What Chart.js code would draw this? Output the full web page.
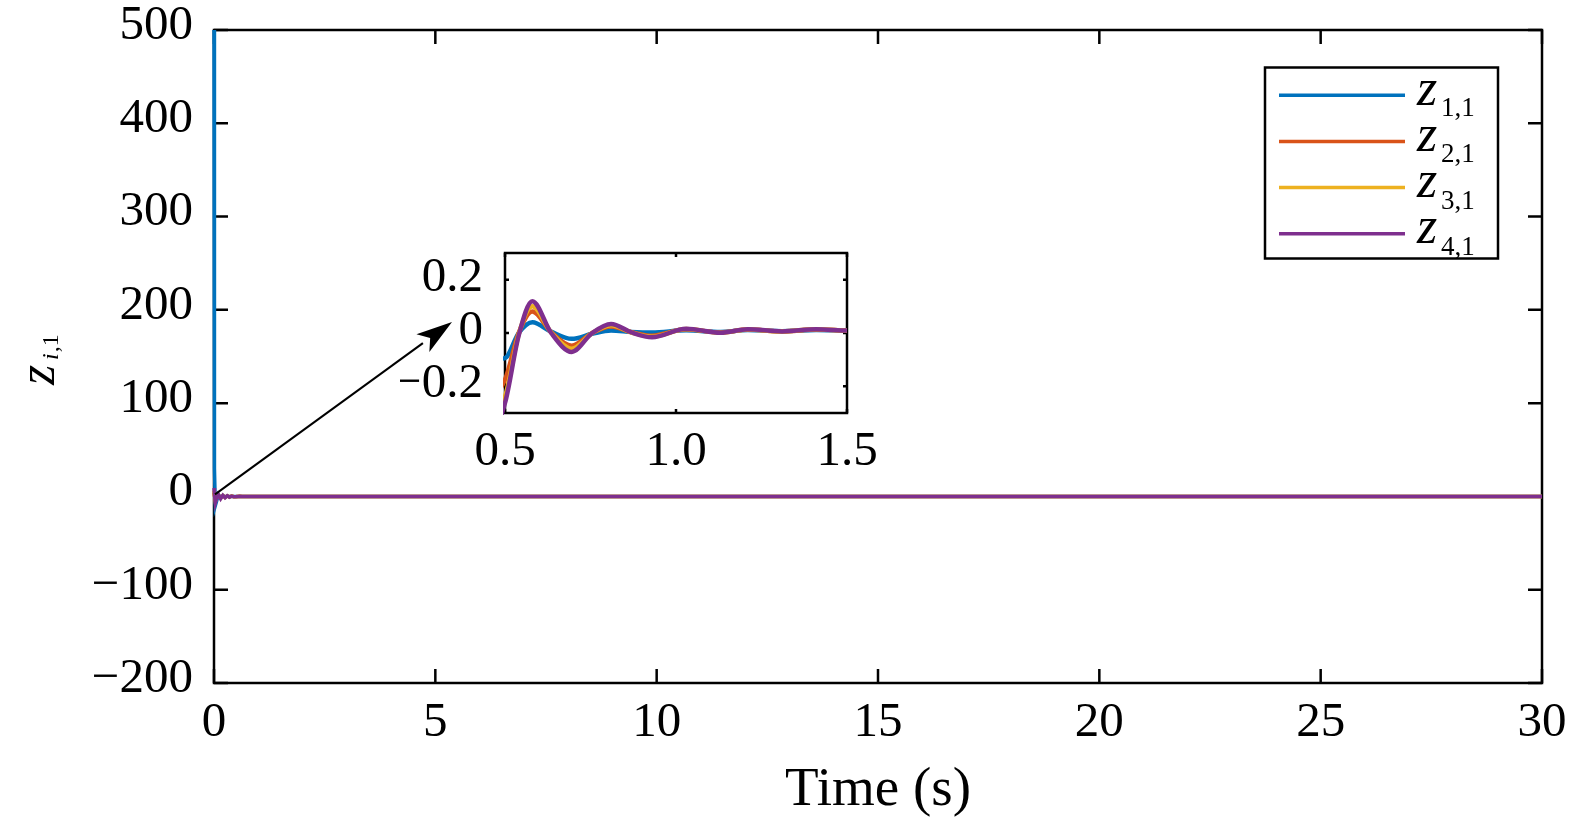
<!DOCTYPE html>
<html>
<head>
<meta charset="utf-8">
<script src="https://cdn.jsdelivr.net/npm/chart.js@4.4.0/dist/chart.umd.min.js"></script>
<style>
  html, body { margin: 0; padding: 0; background: #fff; }
  #wrap { position: relative; width: 1575px; height: 819px; overflow: hidden; }
  #mainChart { position: absolute; left: 0; top: 0; }
  #insetChart { position: absolute; left: 400px; top: 240px; }
</style>
</head>
<body>
<div id="wrap">
  <canvas id="mainChart" width="1575" height="819"></canvas>
  <canvas id="insetChart" width="500" height="240"></canvas>
</div>
<script>
// time samples (s)
const time = [0, 0.01, 0.03, 0.06, 0.1, 0.15, 0.2, 0.25, 0.3, 0.35, 0.4, 0.45,
  0.5, 0.54, 0.58, 0.635, 0.695, 0.755, 0.81, 0.87, 0.93, 1.03, 1.13, 1.21, 1.31, 1.41, 1.5,
  2, 5, 10, 15, 20, 25, 30];

const z11 = [500, 30, -10, -5, 2, -1.5, 1, -0.6, 0.4, -0.3, 0.2, -0.1,
  -0.094, 0.0, 0.04, 0.005, -0.022, -0.003, 0.009, 0.004, 0.002, 0.01, 0.004, 0.011, 0.007, 0.011, 0.009,
  0.005, 0, 0, 0, 0, 0, 0];
const z21 = [4, 1, -4, -1, 1.2, -1.5, 0.8, -0.9, 0.5, -0.5, 0.3, -0.25,
  -0.175, 0.0, 0.081, 0.003, -0.0475, 0.0, 0.024, 0.003, -0.01, 0.014, 0.002, 0.013, 0.006, 0.013, 0.009,
  0.004, 0, 0, 0, 0, 0, 0];
const z31 = [6, 1.5, -5.5, -1.5, 1.6, -2, 1, -1.2, 0.6, -0.6, 0.35, -0.3,
  -0.2375, -0.005, 0.10, 0.002, -0.059, 0.0, 0.029, 0.002, -0.014, 0.015, 0.001, 0.013, 0.006, 0.014, 0.009,
  0.004, 0, 0, 0, 0, 0, 0];
const z41 = [9, 2, -7, -2, 2, -2.5, 1.2, -1.5, 0.8, -0.8, 0.4, -0.4,
  -0.2625, -0.01, 0.119, 0.0, -0.071, 0.0, 0.034, 0.002, -0.016, 0.016, 0.001, 0.014, 0.006, 0.014, 0.009,
  0.004, 0, 0, 0, 0, 0, 0];

const seriesLabels = ['z_{1,1}', 'z_{2,1}', 'z_{3,1}', 'z_{4,1}'];
const seriesColors = ['#0072BD', '#D95319', '#EDB120', '#7E2F8E'];

const mainXTicks = [0, 5, 10, 15, 20, 25, 30];
const mainYTicks = [-200, -100, 0, 100, 200, 300, 400, 500];
const insetXTicks = [0.5, 1.0, 1.5];
const insetYTicks = [-0.2, 0, 0.2];

const serif = 'Liberation Serif';
const minus = s => String(s).replace('-', '\u2212');

function makeDatasets(width, insetMode) {
  return [z11, z21, z31, z41].map((ys, i) => ({
    label: seriesLabels[i],
    data: time.map((t, k) => ({ x: t, y: ys[k] })),
    borderColor: seriesColors[i],
    borderWidth: width,
    pointRadius: 0,
    tension: 0,
    cubicInterpolationMode: insetMode ? 'monotone' : 'default',
    clip: insetMode ? 2 : 4,
    order: 3 - i
  }));
}

function frameTicks(len, lw) {
  return {
    id: 'frameTicks',
    beforeDraw(chart) {
      const { ctx, chartArea: a } = chart;
      ctx.save();
      ctx.fillStyle = '#fff';
      ctx.fillRect(a.left, a.top, a.right - a.left, a.bottom - a.top);
      ctx.restore();
    },
    beforeDatasetsDraw(chart) {
      const { ctx, chartArea: a, scales: { x, y } } = chart;
      ctx.save();
      ctx.strokeStyle = '#000';
      ctx.lineWidth = lw;
      ctx.strokeRect(a.left, a.top, a.right - a.left, a.bottom - a.top);
      ctx.beginPath();
      x.ticks.forEach(t => {
        const px = x.getPixelForValue(t.value);
        ctx.moveTo(px, a.bottom); ctx.lineTo(px, a.bottom - len);
        ctx.moveTo(px, a.top); ctx.lineTo(px, a.top + len);
      });
      y.ticks.forEach(t => {
        const py = y.getPixelForValue(t.value);
        ctx.moveTo(a.left, py); ctx.lineTo(a.left + len, py);
        ctx.moveTo(a.right, py); ctx.lineTo(a.right - len, py);
      });
      ctx.stroke();
      ctx.restore();
    }
  };
}

// draws "z" in italics followed by a subscript
function drawSubLabel(ctx, label, x, y, size, subSize, subDx, subDy) {
  const m = label.match(/^(\w)_\{(.*)\}$/);
  ctx.font = 'italic ' + size + 'px "' + serif + '"';
  ctx.fillText(m[1], x, y);
  ctx.font = subSize + 'px "' + serif + '"';
  ctx.fillText(m[2], x + subDx, y + subDy);
}

const annotations = {
  id: 'annotations',
  afterDraw(chart) {
    const { ctx, chartArea: a, scales: { x, y } } = chart;
    ctx.save();
    ctx.fillStyle = '#000';
    ctx.textBaseline = 'alphabetic';

    // x axis title
    ctx.font = '55px "' + serif + '"';
    ctx.textAlign = 'center';
    ctx.fillText('Time (s)', (a.left + a.right) / 2, 805);

    // y axis title, rotated
    ctx.save();
    ctx.translate(54, 385);
    ctx.rotate(-Math.PI / 2);
    ctx.textAlign = 'left';
    ctx.font = 'italic 52px "' + serif + '"';
    ctx.fillText('z', 0, 0);
    ctx.font = 'italic 24px "' + serif + '"';
    ctx.fillText('i', 25, 4);
    const iw = ctx.measureText('i').width;
    ctx.font = '24px "' + serif + '"';
    ctx.fillText(',1', 25 + iw + 1, 4);
    ctx.restore();

    // legend
    const lx = a.right - 277, ly = a.top + 37.5, lw = 233, lh = 191;
    ctx.fillStyle = '#fff';
    ctx.fillRect(lx, ly, lw, lh);
    ctx.strokeStyle = '#000';
    ctx.lineWidth = 2.5;
    ctx.strokeRect(lx, ly, lw, lh);
    chart.data.datasets.forEach((ds, i) => {
      const yy = ly + 27.7 + i * 46.2;
      ctx.strokeStyle = ds.borderColor;
      ctx.lineWidth = 3.5;
      ctx.beginPath();
      ctx.moveTo(lx + 14, yy);
      ctx.lineTo(lx + 140, yy);
      ctx.stroke();
      ctx.fillStyle = '#000';
      ctx.textAlign = 'left';
      drawSubLabel(ctx, ds.label, lx + 152, yy + 9.5, 52, 27, 24, 11.5);
    });

    // arrow from the origin to the inset
    const x0 = x.getPixelForValue(0) + 1, y0 = y.getPixelForValue(0) - 2;
    const tx = 452, ty = 322;
    const ang = Math.atan2(ty - y0, tx - x0);
    const hl = 36, hw = 11;
    const bx = tx - hl * Math.cos(ang), by = ty - hl * Math.sin(ang);
    ctx.strokeStyle = '#000';
    ctx.lineWidth = 2;
    ctx.beginPath();
    ctx.moveTo(x0, y0);
    ctx.lineTo(bx, by);
    ctx.stroke();
    ctx.fillStyle = '#000';
    ctx.beginPath();
    ctx.moveTo(tx, ty);
    ctx.lineTo(bx + hw * Math.sin(ang), by - hw * Math.cos(ang));
    ctx.lineTo(tx - 0.75 * hl * Math.cos(ang), ty - 0.75 * hl * Math.sin(ang));
    ctx.lineTo(bx - hw * Math.sin(ang), by + hw * Math.cos(ang));
    ctx.closePath();
    ctx.fill();
    ctx.restore();
  }
};

function axisOpts(min, max, tickVals, fmt, pad, offset, fit) {
  return {
    type: 'linear',
    min: min,
    max: max,
    afterBuildTicks: s => { s.ticks = tickVals.map(v => ({ value: v })); },
    afterFit: s => {
      fit(s);
      s.paddingTop = 0; s.paddingBottom = 0;
      s.paddingLeft = 0; s.paddingRight = 0;
    },
    grid: { display: false, drawTicks: false, tickLength: 0 },
    border: { display: false },
    ticks: {
      color: '#000',
      font: { family: serif, size: 49 },
      padding: pad,
      labelOffset: offset,
      maxRotation: 0,
      autoSkip: false,
      callback: fmt
    }
  };
}

new Chart('mainChart', {
  type: 'line',
  data: { datasets: makeDatasets(3.5, false) },
  options: {
    responsive: false,
    animation: false,
    devicePixelRatio: 1,
    layout: { padding: { top: 30, right: 33, left: 0, bottom: 0 } },
    plugins: { legend: { display: false }, tooltip: { enabled: false } },
    scales: {
      x: axisOpts(0, 30, mainXTicks, v => minus(v), 11, 0, s => { s.height = 136; }),
      y: axisOpts(-200, 500, mainYTicks, v => minus(v), 21, -4, s => { s.width = 214; })
    }
  },
  plugins: [frameTicks(14, 2.5), annotations]
});

new Chart('insetChart', {
  type: 'line',
  data: { datasets: makeDatasets(4.5, true) },
  options: {
    responsive: false,
    animation: false,
    devicePixelRatio: 1,
    layout: { padding: { top: 13, right: 53, left: 0, bottom: 0 } },
    plugins: { legend: { display: false }, tooltip: { enabled: false } },
    scales: {
      x: axisOpts(0.5, 1.5, insetXTicks, v => v.toFixed(1), 10, 0, s => { s.height = 67; }),
      y: axisOpts(-0.3, 0.3, insetYTicks, v => (v === 0 ? '0' : minus(v.toFixed(1))), 22, -2, s => { s.width = 105; })
    }
  },
  plugins: [frameTicks(4, 2.5)]
});
</script>
</body>
</html>
